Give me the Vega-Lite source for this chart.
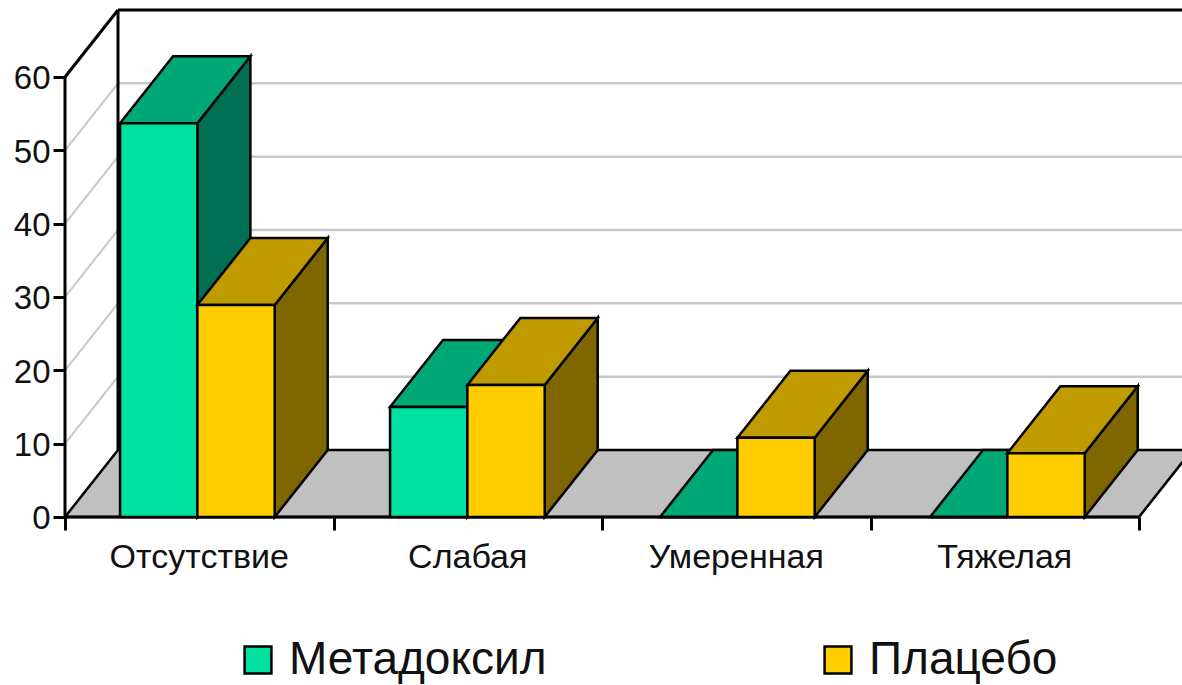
{
  "$schema": "https://vega.github.io/schema/vega-lite/v6.json",
  "width": 1182,
  "height": 685,
  "autosize": {"type": "none"},
  "padding": 0,
  "background": "white",
  "config": {"view": {"stroke": null}},
  "datasets": {
    "bars": [
      {"category": "Отсутствие", "series": "Метадоксил", "value": 53.7},
      {"category": "Отсутствие", "series": "Плацебо", "value": 28.9},
      {"category": "Слабая", "series": "Метадоксил", "value": 15},
      {"category": "Слабая", "series": "Плацебо", "value": 18},
      {"category": "Умеренная", "series": "Метадоксил", "value": 0},
      {"category": "Умеренная", "series": "Плацебо", "value": 10.8},
      {"category": "Тяжелая", "series": "Метадоксил", "value": 0},
      {"category": "Тяжелая", "series": "Плацебо", "value": 8.7}
    ],
    "levels": [{"level": 10}, {"level": 20}, {"level": 30}, {"level": 40}, {"level": 50}]
  },
  "encoding": {
    "x": {
      "field": "x", "type": "quantitative", "stack": null, "title": null,
      "scale": {"domain": [-0.2421, 4.1601], "nice": false, "zero": false},
      "axis": {"values": [0, 1, 2, 3, 4], "labels": false, "domain": false, "grid": false, "title": null, "offset": -168, "tickSize": 13, "tickWidth": 3, "tickColor": "#000000"}
    },
    "y": {
      "field": "y", "type": "quantitative", "stack": null, "title": null,
      "scale": {"domain": [-22.91, 70.5], "nice": false, "zero": false},
      "axis": {"values": [0, 10, 20, 30, 40, 50, 60], "domain": false, "grid": false, "title": null, "offset": -65, "tickSize": 12, "tickWidth": 3, "tickColor": "#000000", "labelFont": "Liberation Sans", "labelFontSize": 33, "labelColor": "#111111", "labelPadding": 3, "labelOffset": 2}
    }
  },
  "layer": [
    {
      "data": {"name": "levels"},
      "transform": [
        {"calculate": "0.1974", "as": "x"},
        {"calculate": "4.3", "as": "x2"},
        {"calculate": "datum.level + 9.14", "as": "y"}
      ],
      "mark": {"type": "rule", "color": "#C8C8C8", "strokeWidth": 2.5, "clip": true},
      "encoding": {"x2": {"field": "x2"}}
    },
    {
      "data": {"name": "levels"},
      "transform": [
        {"calculate": "0", "as": "x"},
        {"calculate": "0.1974", "as": "x2"},
        {"calculate": "datum.level", "as": "y"},
        {"calculate": "datum.level + 9.14", "as": "y2"}
      ],
      "mark": {"type": "rule", "color": "#C8C8C8", "strokeWidth": 2},
      "encoding": {"x2": {"field": "x2"}, "y2": {"field": "y2"}}
    },
    {
      "data": {"values": [
        {"y": 0, "x": 0, "x2": 4},
        {"y": 9.14, "x": 0.1974, "x2": 4.1974}
      ]},
      "mark": {"type": "area", "orient": "horizontal", "fill": "#C0C0C0", "stroke": "#000000", "strokeWidth": 2.5, "clip": true},
      "encoding": {"x2": {"field": "x2"}}
    },
    {
      "data": {"values": [
        {"x": 0, "x2": 0, "y": 0, "y2": 60},
        {"x": 0.1974, "x2": 0.1974, "y": 9.14, "y2": 69.14},
        {"x": 0, "x2": 0.1974, "y": 60, "y2": 69.14},
        {"x": 0.1974, "x2": 4.3, "y": 69.14, "y2": 69.14},
        {"x": 0, "x2": 4, "y": 0, "y2": 0}
      ]},
      "mark": {"type": "rule", "color": "#000000", "strokeWidth": 3, "clip": true},
      "encoding": {"x2": {"field": "x2"}, "y2": {"field": "y2"}}
    },
    {
      "data": {"name": "bars"},
      "transform": [
        {"calculate": "indexof(['Отсутствие','Слабая','Умеренная','Тяжелая'], datum.category)", "as": "i"},
        {"calculate": "datum.series === 'Плацебо' ? 1 : 0", "as": "s"},
        {"calculate": "0.205 + datum.i * 1.0056 + datum.s * 0.288", "as": "xl"},
        {"calculate": "datum.xl + 0.288", "as": "xr"},
        {"calculate": "datum.category + datum.series", "as": "key"},
        {"calculate": "[0, 1]", "as": "d"},
        {"flatten": ["d"]}
      ],
      "layer": [
        {
          "transform": [
            {"filter": "datum.s === 0"},
            {"calculate": "datum.xr + datum.d * 0.1974", "as": "x"},
            {"calculate": "datum.d * 9.14", "as": "y"},
            {"calculate": "datum.value + datum.d * 9.14", "as": "y2"}
          ],
          "mark": {"type": "area", "fill": "#006F54", "stroke": "#000000", "strokeWidth": 2.5},
          "encoding": {"y2": {"field": "y2"}, "detail": {"field": "key"}}
        },
        {
          "transform": [
            {"filter": "datum.s === 0"},
            {"calculate": "datum.xl + datum.d * 0.1974", "as": "x"},
            {"calculate": "datum.xr + datum.d * 0.1974", "as": "x2"},
            {"calculate": "datum.value + datum.d * 9.14", "as": "y"}
          ],
          "mark": {"type": "area", "orient": "horizontal", "fill": "#00A878", "stroke": "#000000", "strokeWidth": 2.5},
          "encoding": {"x2": {"field": "x2"}, "detail": {"field": "key"}}
        },
        {
          "transform": [
            {"filter": "datum.s === 1"},
            {"calculate": "datum.xr + datum.d * 0.1974", "as": "x"},
            {"calculate": "datum.d * 9.14", "as": "y"},
            {"calculate": "datum.value + datum.d * 9.14", "as": "y2"}
          ],
          "mark": {"type": "area", "fill": "#7F6600", "stroke": "#000000", "strokeWidth": 2.5},
          "encoding": {"y2": {"field": "y2"}, "detail": {"field": "key"}}
        },
        {
          "transform": [
            {"filter": "datum.s === 0 && datum.d === 0"},
            {"calculate": "datum.xl", "as": "x"},
            {"calculate": "datum.xr", "as": "x2"},
            {"calculate": "0", "as": "y"},
            {"calculate": "datum.value", "as": "y2"}
          ],
          "mark": {"type": "rect", "stroke": "#000000", "strokeWidth": 2.5},
          "encoding": {
            "x2": {"field": "x2"}, "y2": {"field": "y2"},
            "color": {"field": "series", "type": "nominal",
              "scale": {"domain": ["Метадоксил", "Плацебо"], "range": ["#00E0A0", "#FFCC00"]},
              "legend": {"title": null, "orient": "none", "legendX": 235, "legendY": 637, "direction": "horizontal", "columns": 2, "columnPadding": 268, "symbolType": "square", "symbolSize": 720, "symbolStrokeColor": "#222222", "symbolStrokeWidth": 2.5, "labelFont": "Liberation Sans", "labelFontSize": 46, "labelColor": "#111111", "labelOffset": 8, "labelLimit": 400}}
          }
        },
        {
          "transform": [
            {"filter": "datum.s === 1"},
            {"calculate": "datum.xl + datum.d * 0.1974", "as": "x"},
            {"calculate": "datum.xr + datum.d * 0.1974", "as": "x2"},
            {"calculate": "datum.value + datum.d * 9.14", "as": "y"}
          ],
          "mark": {"type": "area", "orient": "horizontal", "fill": "#C09B00", "stroke": "#000000", "strokeWidth": 2.5},
          "encoding": {"x2": {"field": "x2"}, "detail": {"field": "key"}}
        },
        {
          "transform": [
            {"filter": "datum.s === 1 && datum.d === 0"},
            {"calculate": "datum.xl", "as": "x"},
            {"calculate": "datum.xr", "as": "x2"},
            {"calculate": "0", "as": "y"},
            {"calculate": "datum.value", "as": "y2"}
          ],
          "mark": {"type": "rect", "stroke": "#000000", "strokeWidth": 2.5},
          "encoding": {
            "x2": {"field": "x2"}, "y2": {"field": "y2"},
            "color": {"field": "series", "type": "nominal",
              "scale": {"domain": ["Метадоксил", "Плацебо"], "range": ["#00E0A0", "#FFCC00"]}}
          }
        },
        {
          "transform": [
            {"filter": "datum.s === 0 && datum.d === 0"},
            {"calculate": "datum.i + 0.5", "as": "x"},
            {"calculate": "-5.6", "as": "y"}
          ],
          "mark": {"type": "text", "font": "Liberation Sans", "fontSize": 34, "color": "#111111", "baseline": "middle"},
          "encoding": {"text": {"field": "category"}}
        }
      ]
    }
  ]
}
